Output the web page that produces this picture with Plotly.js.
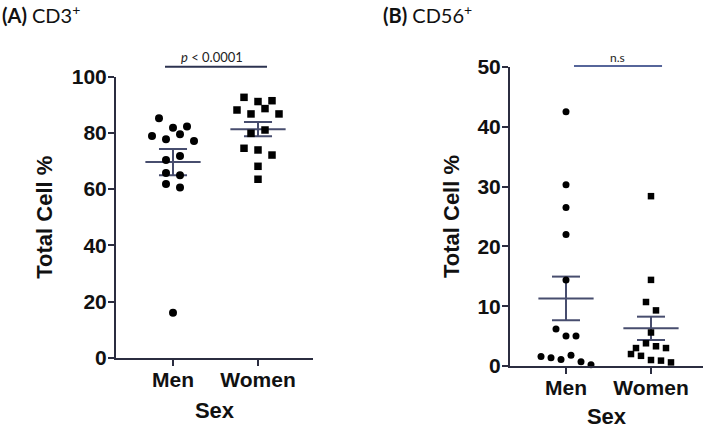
<!DOCTYPE html>
<html>
<head>
<meta charset="utf-8">
<script src="https://cdn.plot.ly/plotly-3.0.1.min.js"></script>
<style>html,body{margin:0;padding:0;background:#fff;}#chart{width:709px;height:429px;}</style>
</head>
<body>
<div id="chart"></div>
<script>
// ---------- data ----------
const categories = ["Men", "Women"];

// Panel A: CD3+
const cd3Men   = [85.2, 81.8, 82.2, 78.9, 77.7, 79.5, 77.1, 70.3, 71.8, 65.7, 64.9, 61.8, 60.6, 16.1];
const cd3Women = [92.6, 91.1, 91.4, 88.1, 88.6, 86.7, 86.7, 79.8, 81.0, 74.5, 73.9, 72.1, 68.1, 63.5];
const cd3MenSlot   = [-2, 0, 2, -3, -1, 1, 3, -1, 1, -1, 1, -1, 1, 0];
const cd3WomenSlot = [-2, 0, 2, -3, 1, -1, 3, -1, 1, -2, 0, 2, 0, 0];
const cd3Means = [69.6, 81.3];
const cd3Sems  = [4.65, 2.55];
const cd3Yticks = [0, 20, 40, 60, 80, 100];

// Panel B: CD56+
const cd56Men   = [42.5, 30.3, 26.5, 22.0, 14.4, 6.2, 5.0, 5.0, 1.6, 1.4, 1.1, 1.8, 0.7, 0.2];
const cd56Women = [28.4, 14.4, 10.7, 9.3, 5.6, 3.8, 3.3, 3.0, 3.0, 2.0, 1.7, 1.0, 0.9, 0.6];
const cd56MenSlot   = [0, 0, 0, 0, 0, -2, 0, 2, -5, -3, -1, 1, 3, 5];
const cd56WomenSlot = [0, 0, -1, 1, 0, -1, 1, 3, -3, -4, -2, 0, 2, 4];
const cd56Means = [11.3, 6.3];
const cd56Sems  = [3.65, 1.95];
const cd56Yticks = [0, 10, 20, 30, 40, 50];

const sigA = "<i>p</i> < 0.0001";
const sigB = "n.s";

// ---------- drawing ----------
const axisColor = "#2b2d40";
const statColor = "#474d6e";
const stepA = 7 / 85, stepB = 5 / 85;

function pts(vals, slots, cx, step, xa, ya, sym, size) {
  return {
    type: "scatter", mode: "markers", xaxis: xa, yaxis: ya, cliponaxis: false,
    x: vals.map((v, i) => cx + slots[i] * step), y: vals,
    marker: {symbol: sym, size: size, color: "#000"}, hoverinfo: "y", showlegend: false
  };
}
function stats(means, sems, xa, ya) {
  const x = [], y = [];
  means.forEach((m, i) => {
    const c = i + 1, s = sems[i];
    x.push(c - 0.325, c + 0.325, null, c, c, null, c - 0.165, c + 0.165, null, c - 0.165, c + 0.165, null);
    y.push(m, m, null, m - s, m + s, null, m + s, m + s, null, m - s, m - s, null);
  });
  return {type: "scatter", mode: "lines", xaxis: xa, yaxis: ya, x, y, cliponaxis: false,
          line: {color: statColor, width: 2}, hoverinfo: "skip", showlegend: false};
}

const traces = [
  stats(cd3Means, cd3Sems, "x", "y"),
  pts(cd3Men, cd3MenSlot, 1, stepA, "x", "y", "circle", 8),
  pts(cd3Women, cd3WomenSlot, 2, stepA, "x", "y", "square", 7.5),
  stats(cd56Means, cd56Sems, "x2", "y2"),
  pts(cd56Men, cd56MenSlot, 1, stepB, "x2", "y2", "circle", 7),
  pts(cd56Women, cd56WomenSlot, 2, stepB, "x2", "y2", "square", 6.5)
];

const tickFont = {family: "Liberation Sans, Arial, sans-serif", size: 21, color: "#111", weight: "bold"};
const titleFont = {family: "Liberation Sans, Arial, sans-serif", size: 22, color: "#111", weight: "bold"};
function xax(domain, range, anchor) {
  return {domain, range, anchor, tickvals: [1, 2], ticktext: categories, showline: true, linecolor: axisColor,
          linewidth: 2, ticks: "outside", ticklen: 6, tickwidth: 2, tickcolor: axisColor, showgrid: false,
          zeroline: false, tickfont: tickFont, automargin: false, ticklabelstandoff: -4,
          title: {text: "Sex", font: titleFont, standoff: 12}};
}
function yax(domain, range, tickvals, anchor, standoff) {
  return {domain, range, anchor, tickvals, showline: true, linecolor: axisColor, linewidth: 2,
          ticks: "outside", ticklen: 6, tickwidth: 2, tickcolor: axisColor, showgrid: false, zeroline: false,
          tickfont: tickFont, automargin: false, ticklabelstandoff: -3,
          title: {text: "Total Cell %", font: titleFont, standoff: standoff}};
}

const layout = {
  width: 709, height: 429, margin: {l: 0, r: 0, t: 0, b: 0},
  paper_bgcolor: "#fff", plot_bgcolor: "rgba(0,0,0,0)", showlegend: false,
  xaxis: xax([116 / 709, 313 / 709], [0.3294, 2.647], "y"),
  yaxis: yax([1 - 358 / 429, 1 - 76.5 / 429], [0, 100], cd3Yticks, "x", 13),
  xaxis2: xax([510 / 709, 703 / 709], [0.341, 2.612], "y2"),
  yaxis2: yax([1 - 366 / 429, 1 - 67 / 429], [0, 50], cd56Yticks, "x2", 12),
  shapes: [
    {type: "line", xref: "x", yref: "paper", x0: 0.906, x1: 2.106, y0: 1 - 66.7 / 429, y1: 1 - 66.7 / 429,
     line: {color: "#2c3350", width: 2}},
    {type: "line", xref: "x2", yref: "paper", x0: 1.094, x1: 2.13, y0: 1 - 66 / 429, y1: 1 - 66 / 429,
     line: {color: "#56659a", width: 2}}
  ],
  annotations: [
    {xref: "paper", yref: "paper", x: 0, y: 1 - 14 / 429, xanchor: "left", yanchor: "middle", showarrow: false,
     text: "<b>(A)</b> CD3<sup>+</sup>", font: {family: "Lato, Open Sans, sans-serif", size: 20, color: "#111"}},
    {xref: "paper", yref: "paper", x: 381 / 709, y: 1 - 14 / 429, xanchor: "left", yanchor: "middle", showarrow: false,
     text: "<b>(B)</b> CD56<sup>+</sup>", font: {family: "Lato, Open Sans, sans-serif", size: 20, color: "#111"}},
    {xref: "x", yref: "paper", x: 1.46, y: 1 - 57 / 429, xanchor: "center", yanchor: "middle", showarrow: false,
     text: sigA, font: {family: "Lato, Open Sans, sans-serif", size: 13, color: "#222"}},
    {xref: "x2", yref: "paper", x: 1.61, y: 1 - 58 / 429, xanchor: "center", yanchor: "middle", showarrow: false,
     text: sigB, font: {family: "Lato, Open Sans, sans-serif", size: 12, color: "#222"}}
  ]
};

Plotly.newPlot("chart", traces, layout, {displayModeBar: false, staticPlot: true});
</script>
</body>
</html>
